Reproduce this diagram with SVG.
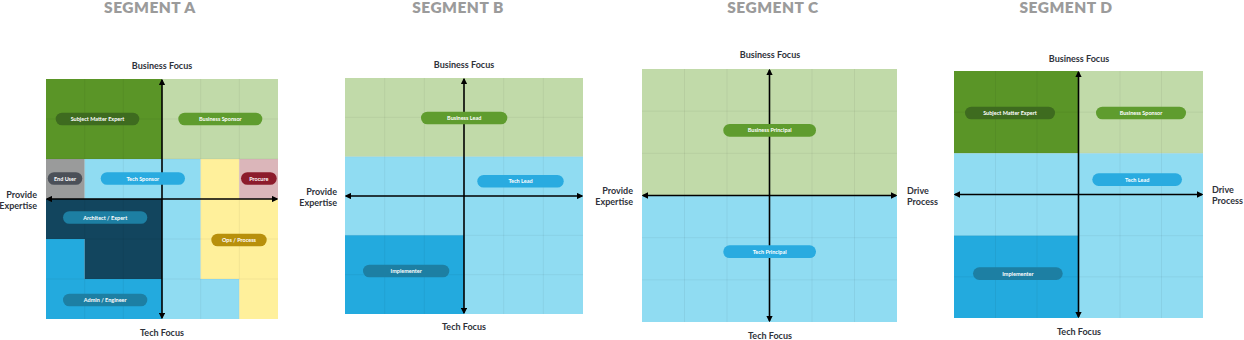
<svg xmlns="http://www.w3.org/2000/svg" width="1244" height="340" viewBox="0 0 1244 340">
<style>
.title{font-family:Lato,"Liberation Sans",sans-serif;font-weight:800;font-size:15.5px;fill:#9b9b9b;text-anchor:middle;letter-spacing:0.5px}
.ax{font-family:Lato,"Liberation Sans",sans-serif;font-weight:700;font-size:9px;fill:#2f323a}
.mid{text-anchor:middle}
.end{text-anchor:end}
.pt{font-family:Lato,"Liberation Sans",sans-serif;font-weight:700;font-size:5.5px;fill:#ffffff;text-anchor:middle}
.dg{fill:#5a9527}.lg{fill:#c1daa9}.lb{fill:#90dcf2}.bl{fill:#23aade}.nv{fill:#12455e}.ye{fill:#fff09b}.pk{fill:#dbb6ba}.gy{fill:#9a9b9b}
.grid{stroke:#000000;stroke-opacity:0.05;stroke-width:1;fill:none}
.axis{stroke:#000000;stroke-width:1.6;fill:none;marker-start:url(#ah);marker-end:url(#ah)}
.p-sme{fill:#3e6b1f}.p-bs{fill:#5f9c2e}.p-eu{fill:#4b5058}.p-ts{fill:#29abe0}.p-pr{fill:#8c1b2b}.p-ae{fill:#1d7fa3}.p-op{fill:#b8900c}
</style>
<defs>
<marker id="ah" viewBox="0 0 10 10" refX="8" refY="5" markerWidth="4" markerHeight="4" orient="auto-start-reverse" markerUnits="strokeWidth">
<path d="M0,0 L10,5 L0,10 z" fill="#000"/>
</marker>
</defs>

<text class="title" x="150" y="13">SEGMENT A</text>
<text class="title" x="458" y="13">SEGMENT B</text>
<text class="title" x="773" y="13">SEGMENT C</text>
<text class="title" x="1066" y="13">SEGMENT D</text>

<g id="segment-a">
<rect class="dg" x="46" y="79" width="116" height="80"/>
<rect class="lg" x="162" y="79" width="116" height="80"/>
<rect class="gy" x="46" y="159" width="38.67" height="40"/>
<rect class="lb" x="84.67" y="159" width="116" height="40"/>
<rect class="ye" x="200.67" y="159" width="38.67" height="40"/>
<rect class="pk" x="239.33" y="159" width="38.67" height="40"/>
<rect class="nv" x="46" y="199" width="116" height="40"/>
<rect class="lb" x="162" y="199" width="38.67" height="40"/>
<rect class="ye" x="200.67" y="199" width="77.33" height="40"/>
<rect class="bl" x="46" y="239" width="38.67" height="40"/>
<rect class="nv" x="84.67" y="239" width="77.33" height="40"/>
<rect class="lb" x="162" y="239" width="38.67" height="40"/>
<rect class="ye" x="200.67" y="239" width="77.33" height="40"/>
<rect class="bl" x="46" y="279" width="116" height="40"/>
<rect class="lb" x="162" y="279" width="77.33" height="40"/>
<rect class="ye" x="239.33" y="279" width="38.67" height="40"/>
<path class="grid" d="M84.67,79V319M123.33,79V319M200.67,79V319M239.33,79V319M46,119H278M46,159H278M46,239H278M46,279H278"/>
<text class="ax mid" x="162" y="69">Business Focus</text>
<text class="ax mid" x="162" y="335.5">Tech Focus</text>
<text class="ax end" x="37" y="197.5">Provide</text>
<text class="ax end" x="37" y="208.5">Expertise</text>
</g>

<g id="segment-b">
<rect class="lg" x="345" y="78" width="238" height="78.67"/>
<rect class="lb" x="345" y="156.67" width="238" height="157.33"/>
<rect class="bl" x="345" y="235.33" width="119" height="78.67"/>
<path class="grid" d="M384.67,78V314M424.33,78V314M503.67,78V314M543.33,78V314M345,117.33H583M345,156.67H583M345,235.33H583M345,274.67H583"/>
<text class="ax mid" x="464" y="68">Business Focus</text>
<text class="ax mid" x="464" y="330">Tech Focus</text>
<text class="ax end" x="337" y="195">Provide</text>
<text class="ax end" x="337" y="205.5">Expertise</text>
</g>

<g id="segment-c">
<rect class="lg" x="642" y="69" width="255" height="126.5"/>
<rect class="lb" x="642" y="195.5" width="255" height="126.5"/>
<path class="grid" d="M684.5,69V322M727,69V322M812,69V322M854.5,69V322M642,111.17H897M642,153.33H897M642,237.67H897M642,279.83H897"/>
<text class="ax mid" x="770" y="57.7">Business Focus</text>
<text class="ax mid" x="770" y="338.5">Tech Focus</text>
<text class="ax end" x="633" y="193.5">Provide</text>
<text class="ax end" x="633" y="204.5">Expertise</text>
<text class="ax" x="907" y="193.5">Drive</text>
<text class="ax" x="907" y="204.5">Process</text>
</g>

<g id="segment-d">
<rect class="dg" x="954" y="71" width="124.5" height="82.33"/>
<rect class="lg" x="1078.5" y="71" width="124.5" height="82.33"/>
<rect class="lb" x="954" y="153.33" width="249" height="164.67"/>
<rect class="bl" x="954" y="235.67" width="124.5" height="82.33"/>
<path class="grid" d="M995.5,71V318M1037,71V318M1120,71V318M1161.5,71V318M954,112.17H1203M954,153.33H1203M954,235.67H1203M954,276.83H1203"/>
<text class="ax mid" x="1079" y="61.7">Business Focus</text>
<text class="ax mid" x="1079" y="335">Tech Focus</text>
<text class="ax" x="1212" y="192.5">Drive</text>
<text class="ax" x="1212" y="203.5">Process</text>
</g>

<g id="connectors">
<path class="axis" d="M162,80V318"/>
<path class="axis" d="M47,199H277"/>
<path class="axis" d="M464,79V313"/>
<path class="axis" d="M346,196H582"/>
<path class="axis" d="M769.5,70V321"/>
<path class="axis" d="M643,195.5H896"/>
<path class="axis" d="M1078.5,72V317"/>
<path class="axis" d="M955,194.5H1202"/>
</g>

<g id="pill-a-sme"><rect class="p-sme" x="55.7" y="112.7" width="83.6" height="12.6" rx="6.3"/><text class="pt" x="97.5" y="121">Subject Matter Expert</text></g>
<g id="pill-a-bs"><rect class="p-bs" x="178.3" y="112.7" width="84" height="12.6" rx="6.3"/><text class="pt" x="220.3" y="121">Business Sponsor</text></g>
<g id="pill-a-eu"><rect class="p-eu" x="47.7" y="172.2" width="34.6" height="12.6" rx="6.3"/><text class="pt" x="65" y="180.5">End User</text></g>
<g id="pill-a-ts"><rect class="p-ts" x="100.7" y="172.2" width="84.3" height="12.6" rx="6.3"/><text class="pt" x="142.8" y="180.5">Tech Sponsor</text></g>
<g id="pill-a-pr"><rect class="p-pr" x="241" y="172.2" width="35.7" height="12.6" rx="6.3"/><text class="pt" x="258.8" y="180.5">Procure</text></g>
<g id="pill-a-ae"><rect class="p-ae" x="63" y="211.2" width="84.3" height="12.6" rx="6.3"/><text class="pt" x="105.2" y="219.5">Architect / Expert</text></g>
<g id="pill-a-op"><rect class="p-op" x="211.3" y="233.7" width="55.4" height="12.6" rx="6.3"/><text class="pt" x="239" y="242">Ops / Process</text></g>
<g id="pill-a-ad"><rect class="p-ae" x="63" y="293.7" width="84.3" height="12.6" rx="6.3"/><text class="pt" x="105.2" y="302">Admin / Engineer</text></g>

<g id="pill-b-bl"><rect class="p-bs" x="421" y="111.7" width="86.3" height="12.6" rx="6.3"/><text class="pt" x="464.2" y="120">Business Lead</text></g>
<g id="pill-b-tl"><rect class="p-ts" x="477.3" y="174.9" width="86.4" height="12.6" rx="6.3"/><text class="pt" x="520.5" y="183.2">Tech Lead</text></g>
<g id="pill-b-im"><rect class="p-ae" x="363" y="264.7" width="86.3" height="12.6" rx="6.3"/><text class="pt" x="406.2" y="273">Implementer</text></g>

<g id="pill-c-bp"><rect class="p-bs" x="723.3" y="124" width="92.7" height="12.7" rx="6.3"/><text class="pt" x="769.7" y="132.3">Business Principal</text></g>
<g id="pill-c-tp"><rect class="p-ts" x="723.3" y="245.3" width="92.7" height="12.7" rx="6.3"/><text class="pt" x="769.7" y="253.7">Tech Principal</text></g>

<g id="pill-d-sme"><rect class="p-sme" x="965" y="106.7" width="90" height="12.6" rx="6.3"/><text class="pt" x="1010" y="115">Subject Matter Expert</text></g>
<g id="pill-d-bs"><rect class="p-bs" x="1096" y="106.7" width="90" height="12.6" rx="6.3"/><text class="pt" x="1141" y="115">Business Sponsor</text></g>
<g id="pill-d-tl"><rect class="p-ts" x="1092.3" y="173.3" width="89.7" height="12.6" rx="6.3"/><text class="pt" x="1137.2" y="181.6">Tech Lead</text></g>
<g id="pill-d-im"><rect class="p-ae" x="973" y="267.3" width="89.7" height="12.6" rx="6.3"/><text class="pt" x="1017.9" y="275.6">Implementer</text></g>
</svg>
